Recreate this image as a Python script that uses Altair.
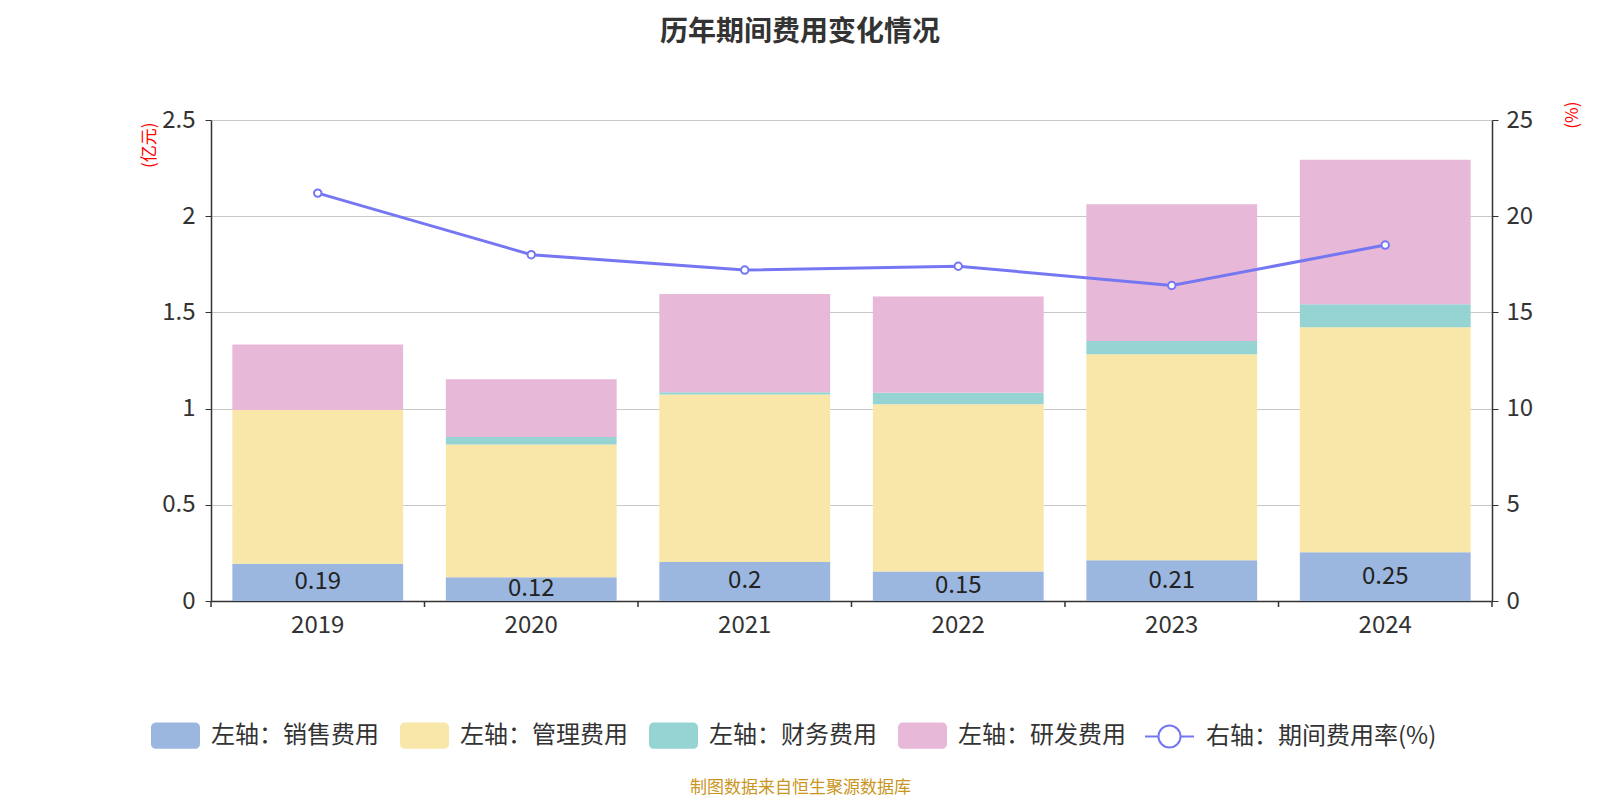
import altair as alt
import pandas as pd

FONT = "Noto Sans CJK SC"

years = ["2019", "2020", "2021", "2022", "2023", "2024"]
sales = [0.193, 0.123, 0.203, 0.153, 0.212, 0.253]
admin = [0.80, 0.69, 0.87, 0.87, 1.07, 1.17]
finance = [0.0, 0.04, 0.012, 0.06, 0.07, 0.12]
rnd = [0.34, 0.30, 0.51, 0.50, 0.71, 0.75]
rate = [21.2, 18.0, 17.2, 17.4, 16.4, 18.5]

series_names = ["左轴：销售费用", "左轴：管理费用", "左轴：财务费用", "左轴：研发费用"]
series_colors = ["#9bb7e0", "#f8e7a9", "#96d4d4", "#e7b8d7"]
line_name = "右轴：期间费用率(%)"
line_color = "#7577f2"

rows = []
for i, yr in enumerate(years):
    for k, (name, vals) in enumerate(zip(series_names, [sales, admin, finance, rnd])):
        rows.append({"year": yr, "series": name, "value": vals[i], "order": k})
bar_df = pd.DataFrame(rows)
lab_df = pd.DataFrame({"year": years, "sales": sales})
line_df = pd.DataFrame({"year": years, "rate": rate, "series": [line_name] * len(years)})

W, H = 1281, 481
STEP = W / len(years)
LBL = 24

x_axis = alt.Axis(
    title="制图数据来自恒生聚源数据库", titleX=589, titleY=186, titleColor="#c8961e",
    titleFontSize=17, titleFontWeight="normal", titleAlign="center", titleBaseline="middle",
    labelAngle=0, labelFontSize=LBL, labelColor="#333333", labelPadding=12, ticks=False,
    domainColor="#333333", domainWidth=1.5, grid=False,
)
X = alt.X("year:N", sort=years, scale=alt.Scale(paddingInner=0.2, paddingOuter=0.1), axis=x_axis)

left_axis = alt.Axis(
    values=[0, 0.5, 1, 1.5, 2, 2.5], format="~g", title="(亿元)", titleAngle=270,
    titleX=-62, titleY=2, titleAlign="right", titleBaseline="middle", titleColor="red",
    titleFontSize=17, titleFontWeight="normal", grid=True, gridColor="#c8c8c8", gridWidth=1,
    tickSize=6, tickColor="#333333", labelPadding=10, domainColor="#333333", domainWidth=1.5,
    labelFontSize=LBL, labelColor="#333333",
)
right_axis = alt.Axis(
    orient="right", values=[0, 5, 10, 15, 20, 25], title="(%)", titleAngle=270,
    titleX=80, titleY=-19, titleAlign="right", titleBaseline="middle", titleColor="red",
    titleFontSize=17, titleFontWeight="normal", grid=False,
    tickSize=6, tickColor="#333333", labelPadding=8, domainColor="#333333", domainWidth=1.5,
    labelFontSize=LBL, labelColor="#333333",
)
left_scale = alt.Scale(domain=[0, 2.5], nice=False)
right_scale = alt.Scale(domain=[0, 25], nice=False)

rect_path = ("M-0.8,-0.54L0.8,-0.54A0.2,0.2,0,0,1,1,-0.34L1,0.34A0.2,0.2,0,0,1,0.8,0.54"
             "L-0.8,0.54A0.2,0.2,0,0,1,-1,0.34L-1,-0.34A0.2,0.2,0,0,1,-0.8,-0.54Z")
line_path = ("M-1,0L-0.45,0M0.45,0L1,0M-0.45,0A0.45,0.45,0,1,1,0.45,0"
             "A0.45,0.45,0,1,1,-0.45,0Z")

bars = alt.Chart(bar_df).mark_bar().encode(
    x=X,
    y=alt.Y("value:Q", stack="zero", scale=left_scale, axis=left_axis),
    fill=alt.Fill(
        "series:N", sort=series_names,
        scale=alt.Scale(domain=series_names, range=series_colors),
        legend=alt.Legend(
            orient="none", legendX=-60, legendY=591, direction="horizontal", columns=4,
            title=None, symbolType=rect_path, symbolSize=2401, symbolStrokeWidth=0,
            symbolOpacity=1, labelFontSize=LBL, labelColor="#333333", labelOffset=11,
            columnPadding=21, labelLimit=400,
        ),
    ),
    order=alt.Order("order:Q"),
)

labels = alt.Chart(lab_df).transform_calculate(mid="datum.sales / 2").mark_text(
    fontSize=LBL, color="#222222", baseline="middle"
).encode(
    x=X,
    y=alt.Y("mid:Q", scale=left_scale, axis=left_axis),
    text=alt.Text("sales:Q", format=".2~f"),
)

ticks_a = alt.Chart(pd.DataFrame({"year": years})).mark_rule(
    color="#333333", strokeWidth=1.5, xOffset=-STEP / 2
).encode(x=X, y=alt.value(H), y2=alt.value(H + 6))
ticks_b = alt.Chart(pd.DataFrame({"year": years[-1:]})).mark_rule(
    color="#333333", strokeWidth=1.5, xOffset=STEP / 2
).encode(x=X, y=alt.value(H), y2=alt.value(H + 6))

stroke_enc = alt.Stroke(
    "series:N", scale=alt.Scale(domain=[line_name], range=[line_color]),
    legend=alt.Legend(
        orient="none", legendX=933, legendY=591, direction="horizontal", title=None,
        symbolType=line_path, symbolSize=2401, symbolStrokeWidth=2, symbolFillColor="white",
        labelFontSize=LBL, labelColor="#333333", labelOffset=11, labelLimit=400,
    ),
)
line = alt.Chart(line_df).mark_line(strokeWidth=3).encode(
    x=X, y=alt.Y("rate:Q", scale=right_scale, axis=right_axis), stroke=stroke_enc
)
points = alt.Chart(line_df).mark_point(
    filled=True, fill="white", size=55, strokeWidth=2, opacity=1
).encode(x=X, y=alt.Y("rate:Q", scale=right_scale, axis=right_axis), stroke=stroke_enc)

left = alt.layer(bars, labels, ticks_a, ticks_b)
right = alt.layer(line, points)

chart = alt.layer(left, right).resolve_scale(y="independent").properties(
    width=W, height=H,
    title=alt.TitleParams(
        "历年期间费用变化情况", fontSize=28, fontWeight="bold", color="#333333",
        font=FONT, anchor="middle", frame="group", dx=-51.5, offset=54,
    ),
    autosize=alt.AutoSizeParams(type="none"),
    padding={"left": 203, "top": 112, "right": 100, "bottom": 199},
).configure(font=FONT).configure_view(stroke=None)

chart.save("out.html", embed_options={"renderer": "svg", "actions": False})
